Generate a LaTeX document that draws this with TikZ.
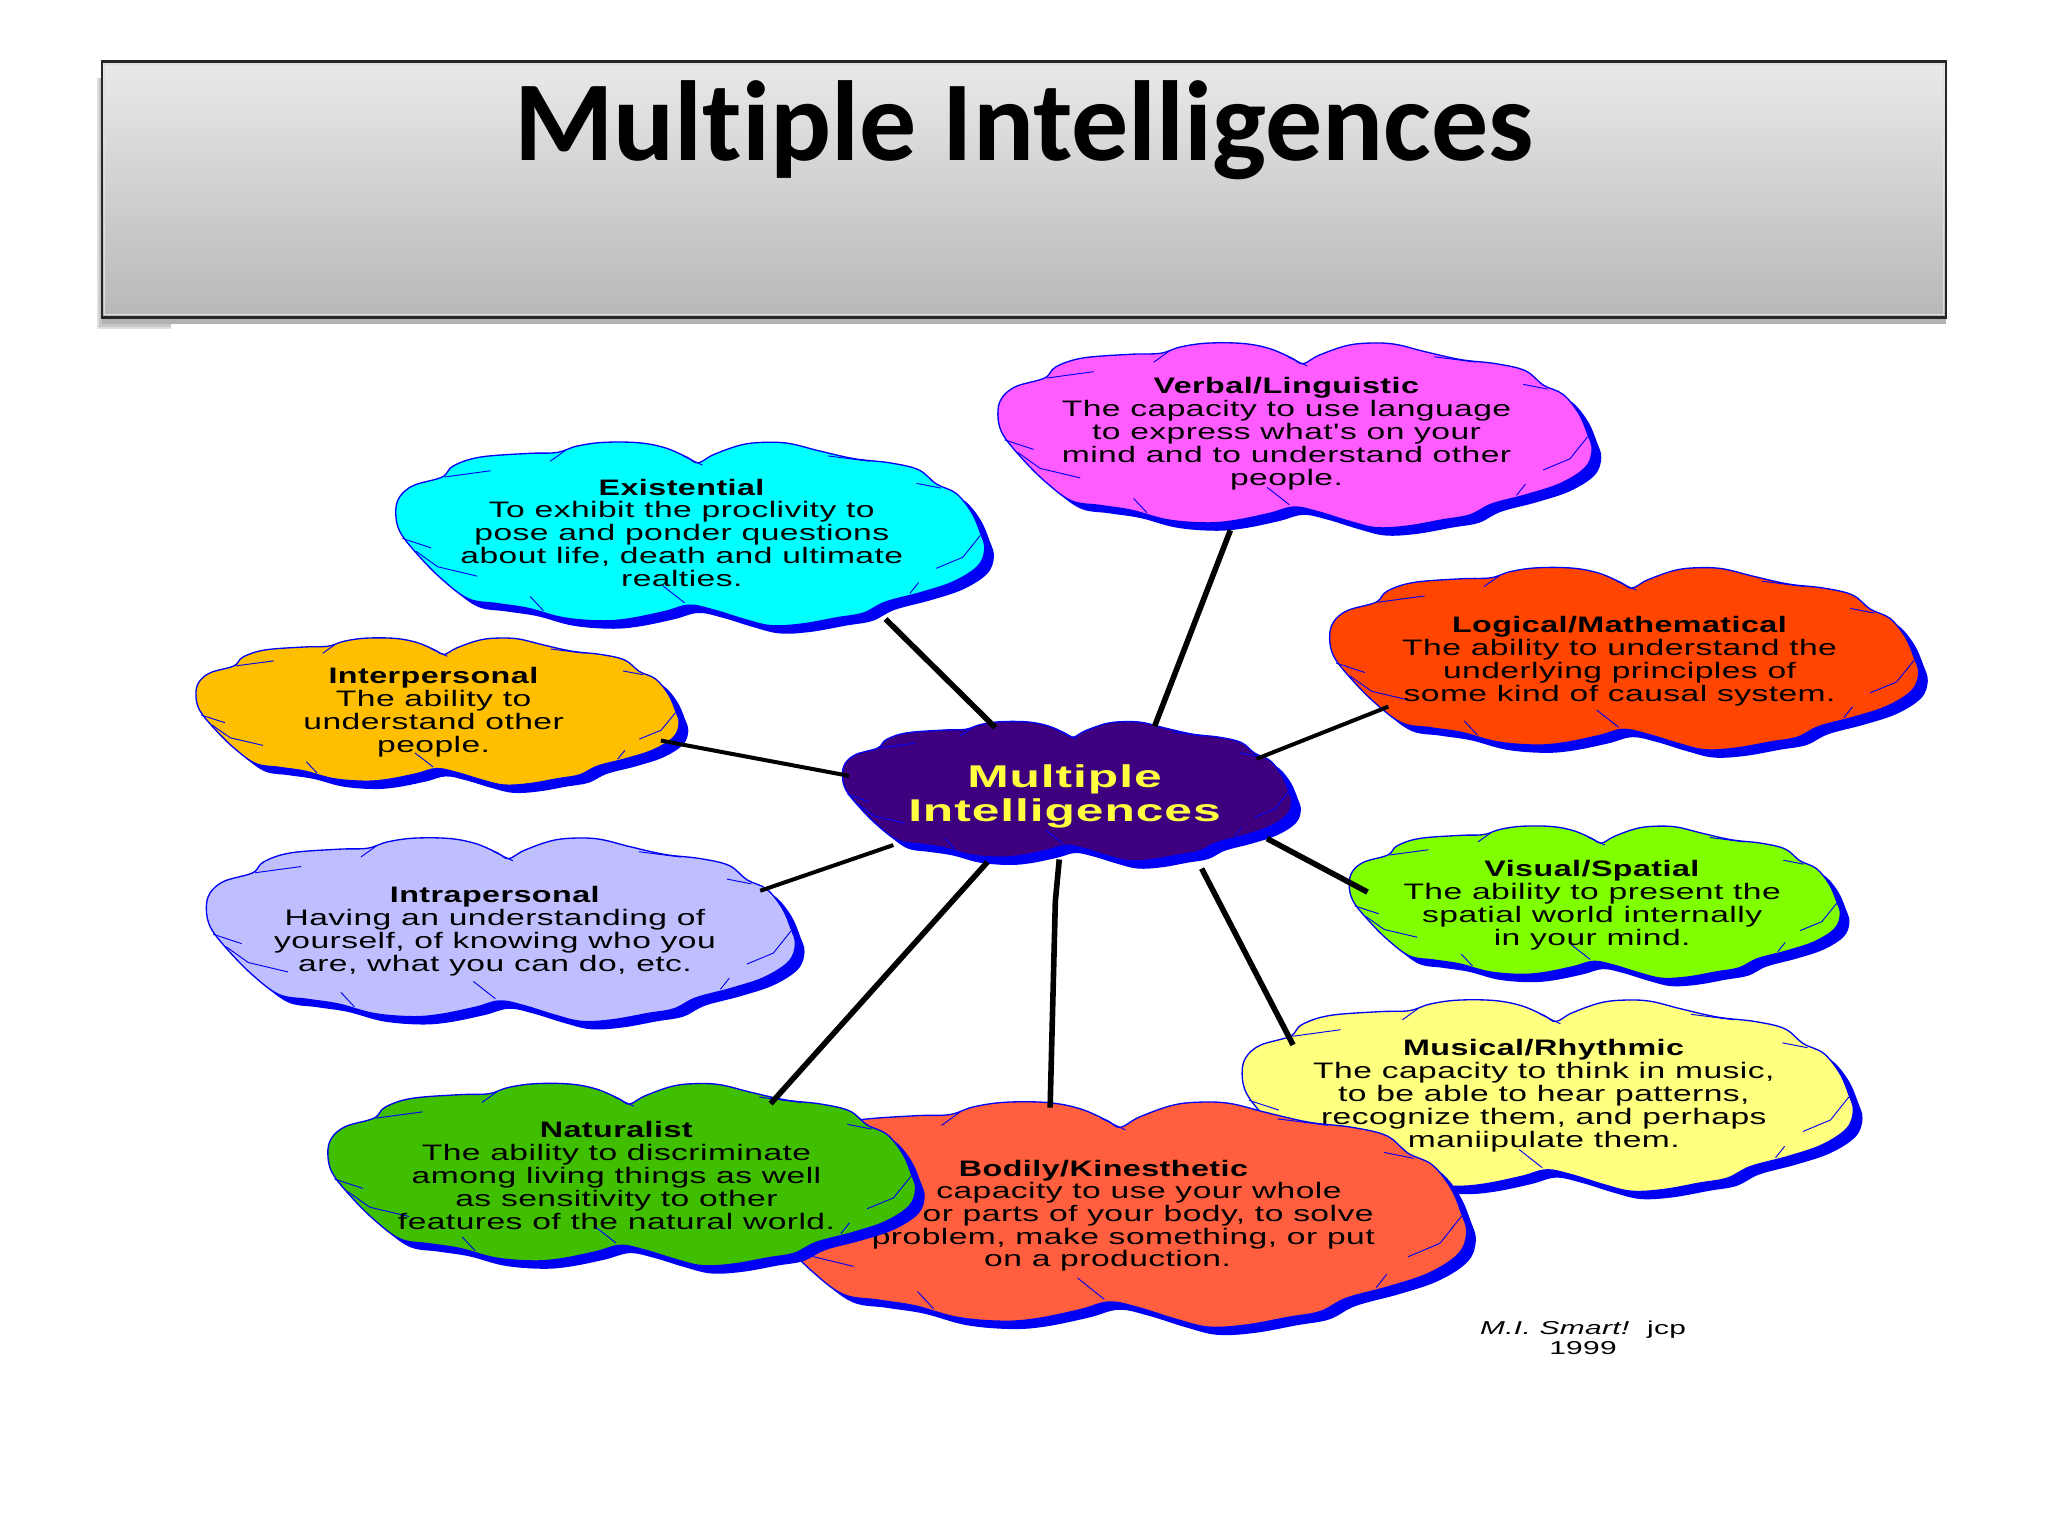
\documentclass[tikz,border=0pt]{standalone}
\usepackage{fontspec}
\setmainfont{Liberation Sans}
\newfontfamily\titlefont[Ligatures=NoCommon]{Carlito}
\newfontfamily\bubfont[FakeStretch=1.5,LetterSpace=2,BoldFeatures={FakeStretch=1.44,LetterSpace=2}]{Liberation Sans}
\newfontfamily\centfont[FakeStretch=1.58,LetterSpace=3,BoldFeatures={FakeStretch=1.58,LetterSpace=3}]{Liberation Sans}
\newfontfamily\credfont[FakeStretch=1.6,LetterSpace=2]{Liberation Sans}
\definecolor{edgeblue}{HTML}{0000F5}
\definecolor{cVerbal}{HTML}{FF5CFF}
\definecolor{cExist}{HTML}{00FFFF}
\definecolor{cInter}{HTML}{FFBF00}
\definecolor{cLogic}{HTML}{FF4500}
\definecolor{cCentral}{HTML}{3F0080}
\definecolor{cVisual}{HTML}{80FF00}
\definecolor{cIntra}{HTML}{BFBFFF}
\definecolor{cMusic}{HTML}{FFFF80}
\definecolor{cNature}{HTML}{40BF00}
\definecolor{cBody}{HTML}{FF5F3F}
\definecolor{cTitleY}{HTML}{FFFF40}
\newcommand{\cloudpts}{plot[smooth cycle,tension=0.6] coordinates {
 (0,228)(8,178)(40,140)(105,113)(130,78)(190,50)(300,38)(365,35)(410,15)(470,3)(550,4)(610,20)(660,50)(685,68)(720,42)(780,12)(830,3)(890,6)(960,30)(1040,55)(1120,68)(1185,90)(1225,135)(1270,165)(1305,225)(1325,290)(1335,340)(1320,395)(1265,445)(1190,480)(1110,510)(1060,545)(1000,560)(920,580)(850,585)(790,565)(720,535)(665,520)(610,540)(530,563)(465,570)(380,560)(300,530)(230,515)(165,500)(105,438)(50,360)(10,288)}}
% #1 x0, #2 y0, #3 x1, #4 y1 (outer box with shadow), #5 fill
\newcommand{\bubble}[5]{%
 \pgfmathsetmacro{\sx}{(#3-#1-7)/1335}%
 \pgfmathsetmacro{\sy}{(#4-#2-6)/585}%
 \begin{scope}[shift={(#1+7,#2+6)},xscale=\sx,yscale=\sy]
  \fill[edgeblue] \cloudpts;
 \end{scope}
 \begin{scope}[shift={(#1,#2)},xscale=\sx,yscale=\sy]
  \draw[edgeblue,line width=0.5pt,fill=#5] \cloudpts;
  \draw[crease] (350,63)--(385,28);
  \draw[crease] (110,113)--(215,93);
  \draw[crease] (980,46)--(1075,63);
  \draw[crease] (1180,133)--(1235,148);
  \draw[crease] (15,308)--(80,338);
  \draw[crease] (45,348)--(95,398)--(185,428);
  \draw[crease] (305,493)--(335,538);
  \draw[crease] (605,458)--(655,513);
  \draw[crease] (1165,483)--(1185,448);
  \draw[crease] (1225,403)--(1285,368)--(1325,298);
  \draw[crease] (650,45)--(695,75);
 \end{scope}}
\tikzset{
 crease/.style={edgeblue,line width=0.35pt},
 link/.style={black,line width=2.1pt},
 linkthin/.style={black,line width=1.5pt},
 bubtext/.style={align=center,inner sep=0pt,text=black,font=\bubfont\fontsize{8.4}{8.6}\selectfont},
 bubline/.style={inner sep=0pt,text=black,font=\bubfont\fontsize{8.4}{8.6}\selectfont},
 headerbox/.style={rectangle,draw=black!85,line width=0.9pt,top color=HdrTop,bottom color=HdrBot,minimum width=691.6pt,minimum height=96pt,inner sep=0pt}
}
\definecolor{HdrTop}{HTML}{E9E9E9}
\definecolor{HdrBot}{HTML}{B8B8B8}
\begin{document}
\begin{tikzpicture}[x=0.4898pt,y=-0.4898pt]
\useasboundingbox (0,0) rectangle (1568,1176);
\fill[white] (0,0) rectangle (1568,1176);
% header
\fill[gray!25] (74,60) rectangle (131,252);
\fill[gray!45] (76,60) rectangle (131,250);
\fill[black!30] (78,235) rectangle (1490,248);
\node[headerbox] (header) at (784,145) {};
\draw[white!75!gray,line width=0.5pt] (80,49) rectangle (1488,241);
\node[inner sep=0pt,font=\titlefont\bfseries\fontsize{42.7}{44}\selectfont] (title) at (784,100) {Multiple Intelligences};
% clouds
\bubble{764}{262}{1226}{410}{cVerbal}
\node[bubtext] (verbal) at (985,332) {\textbf{Verbal/Linguistic}\\The capacity to use language\\to express what's on your\\mind and to understand other\\people.};
\bubble{303}{338}{761}{485}{cExist}
\node[bubtext] (existential) at (522,408) {\textbf{Existential}\\To exhibit the proclivity to\\pose and ponder questions\\about life, death and ultimate\\realties.};
\bubble{150}{488}{527}{607}{cInter}
\node[bubtext] (interpersonal) at (332,545) {\textbf{Interpersonal}\\The ability to\\understand other\\people.};
\bubble{1018}{434}{1476}{580}{cLogic}
\node[bubtext] (logical) at (1240,506) {\textbf{Logical/Mathematical}\\The ability to understand the\\underlying principles of\\some kind of causal system.};
\bubble{1033}{632}{1416}{755}{cVisual}
\node[bubtext] (visual) at (1219,693) {\textbf{Visual/Spatial}\\The ability to present the\\spatial world internally\\in your mind.};
\bubble{158}{641}{616}{788}{cIntra}
\node[bubtext] (intrapersonal) at (379,713) {\textbf{Intrapersonal}\\Having an understanding of\\yourself, of knowing who you\\are, what you can do, etc.};
\bubble{951}{765}{1426}{918}{cMusic}
\node[bubtext] (musical) at (1182,839) {\textbf{Musical/Rhythmic}\\The capacity to think in music,\\to be able to hear patterns,\\recognize them, and perhaps\\maniipulate them.};
\bubble{578}{843}{1130}{1022}{cBody}
\node[bubline] (bodily) at (845,896) {\textbf{Bodily/Kinesthetic}};
\node[bubline] (bodilyA) at (872,913) {capacity to use your whole};
\node[bubline] (bodilyB) at (879,931) {or parts of your body, to solve};
\node[bubline] (bodilyC) at (860,948) {problem, make something, or put};
\node[bubline] (bodilyD) at (848,965) {on a production.};
\bubble{251}{829}{708}{975}{cNature}
\node[bubtext] (naturalist) at (472,900) {\textbf{Naturalist}\\The ability to discriminate\\among living things as well\\as sensitivity to other\\features of the natural world.};
\bubble{645}{552}{996}{665}{cCentral}
\node[align=center,inner sep=0pt,text=cTitleY,font=\centfont\bfseries\fontsize{11.8}{12.8}\selectfont] (central) at (815,610) {Multiple\\Intelligences};
% credit
\node[inner sep=0pt,font=\credfont\fontsize{7}{7.4}\selectfont,align=center] (credit) at (1212,1024) {\textit{M.I. Smart!}\ \ jcp\\1999};
% connector ends
\coordinate (eVerbal) at (942,406);
\coordinate (mVerbal) at (884,556);
\coordinate (eExist) at (678,474);
\coordinate (mExist) at (762,557);
\coordinate (eInter) at (506,567);
\coordinate (mInter) at (650,594);
\coordinate (eLogic) at (1063,541);
\coordinate (mLogic) at (962,581);
\coordinate (eVisual) at (1047,683);
\coordinate (mVisual) at (970,642);
\coordinate (eIntra) at (582,682);
\coordinate (mIntra) at (684,647);
\coordinate (eNature) at (590,845);
\coordinate (mNature) at (756,660);
\coordinate (eBody) at (804,848);
\coordinate (kBody) at (808,690);
\coordinate (mBody) at (811,658);
\coordinate (eMusic) at (990,800);
\coordinate (mMusic) at (920,665);
\draw[link] (eVerbal)--(mVerbal);
\draw[link] (eExist)--(mExist);
\draw[linkthin] (eInter)--(mInter);
\draw[linkthin] (eLogic)--(mLogic);
\draw[link] (eVisual)--(mVisual);
\draw[linkthin] (eIntra)--(mIntra);
\draw[link] (eNature)--(mNature);
\draw[link] (eBody)--(kBody)--(mBody);
\draw[link] (eMusic)--(mMusic);
\end{tikzpicture}
\end{document}
